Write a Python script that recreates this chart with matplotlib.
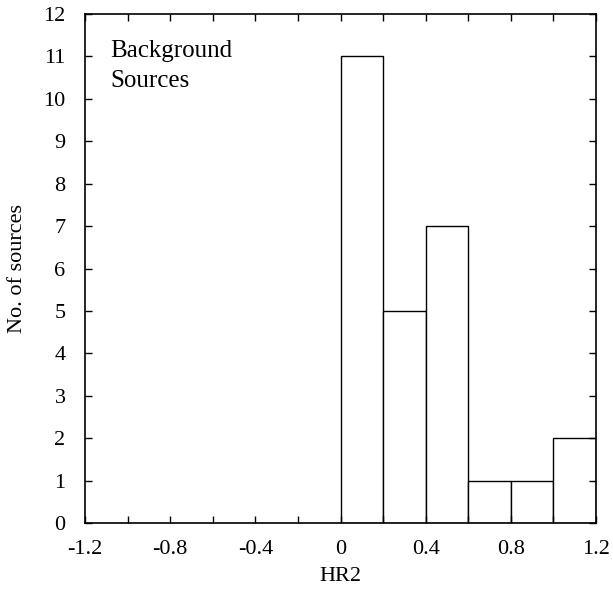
import matplotlib
matplotlib.use("Agg")
import matplotlib.pyplot as plt
import numpy as np

bin_edges = [0.0, 0.2, 0.4, 0.6, 0.8, 1.0, 1.2]
counts = [11, 5, 7, 1, 1, 2]
xticks = [-1.2, -0.8, -0.4, 0, 0.4, 0.8, 1.2]
xtick_labels = ["-1.2", "-0.8", "-0.4", "0", "0.4", "0.8", "1.2"]

plt.rcParams['font.family'] = ['Liberation Serif', 'DejaVu Serif']

fig = plt.figure(figsize=(6.13, 5.98), dpi=100)
ax = fig.add_axes([85/613, 1-523/598, (596-85)/613, (523-14)/598])

lefts = bin_edges[:-1]
widths = np.diff(bin_edges)
ax.bar(lefts, counts, width=widths, align='edge', facecolor='white', edgecolor='black', linewidth=1.0)

ax.set_xlim(-1.2, 1.2)
ax.set_ylim(0, 12)
ax.set_xticks(xticks)
ax.set_xticklabels(xtick_labels)
ax.set_xticks(np.arange(-1.2, 1.21, 0.2), minor=True)
ax.set_yticks(range(0, 13))
ax.tick_params(which='both', direction='in', top=True, right=True, labelsize=16, length=5, width=1)
ax.tick_params(axis='y', pad=14)
ax.tick_params(axis='x', pad=12)
for s in ax.spines.values():
    s.set_linewidth(1.2)

ax.set_xlabel("HR2", fontsize=16, labelpad=6)
ax.set_ylabel("No. of sources", fontsize=16, labelpad=12)
ax.text(0.05, 0.948, "Background\nSources", transform=ax.transAxes, fontsize=18,
        va='top', ha='left', linespacing=1.45)

fig.savefig("out.png", dpi=100)
